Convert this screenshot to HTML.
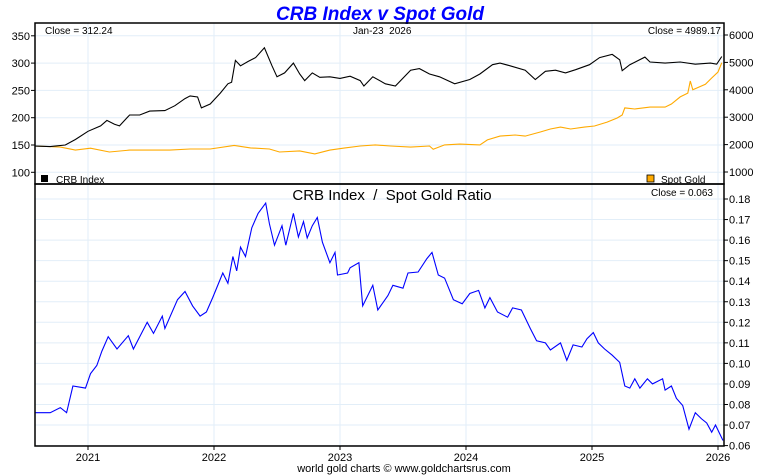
<!DOCTYPE html>
<html><head><meta charset="utf-8"><style>
html,body{margin:0;padding:0;background:#fff;}
svg{display:block;font-family:"Liberation Sans",sans-serif;}
</style></head><body>
<svg id="chart" width="760" height="475" viewBox="0 0 760 475" xmlns="http://www.w3.org/2000/svg">
<text x="380" y="20" text-anchor="middle" font-size="19" font-weight="bold" font-style="italic" fill="#0000ff">CRB Index v Spot Gold</text>
<g id="grid"></g><g id="series"></g><g id="axes"></g>
<text x="45" y="34" font-size="10">Close = 312.24</text>
<text x="353" y="34" font-size="10">Jan-23&#160;&#160;2026</text>
<text x="721" y="34" text-anchor="end" font-size="10">Close = 4989.17</text>
<rect x="41" y="175" width="7" height="7" fill="#000"/>
<text x="56" y="183" font-size="10">CRB Index</text>
<rect x="647" y="175" width="7" height="7" fill="#ffaa00" stroke="#000" stroke-width="0.8"/>
<text x="661" y="183" font-size="10">Spot Gold</text>
<text x="392" y="200" text-anchor="middle" font-size="15">CRB Index&#160;&#160;/&#160;&#160;Spot Gold Ratio</text>
<text x="713" y="196" text-anchor="end" font-size="10">Close = 0.063</text>
<text x="404" y="472" text-anchor="middle" font-size="11">world gold charts © www.goldchartsrus.com</text>
</svg>
<script>
const crbDates=[2020.58,2020.70,2020.82,2020.90,2021.00,2021.10,2021.15,2021.21,2021.25,2021.33,2021.41,2021.49,2021.61,2021.69,2021.77,2021.81,2021.87,2021.90,2021.97,2022.05,2022.11,2022.14,2022.17,2022.21,2022.27,2022.33,2022.40,2022.46,2022.50,2022.56,2022.63,2022.68,2022.72,2022.78,2022.84,2022.92,2023.00,2023.08,2023.16,2023.19,2023.26,2023.36,2023.44,2023.56,2023.63,2023.71,2023.79,2023.91,2024.03,2024.11,2024.21,2024.27,2024.35,2024.47,2024.55,2024.63,2024.71,2024.79,2024.87,2024.98,2025.06,2025.16,2025.22,2025.24,2025.30,2025.42,2025.46,2025.58,2025.70,2025.82,2025.94,2025.99,2026.03];
const crbValues=[148,147,150,160,175,185,195,188,185,205,205,212,213,222,235,240,238,218,225,245,262,265,305,295,303,310,328,295,275,282,300,280,268,282,274,275,272,276,268,258,275,262,258,287,290,280,275,262,270,280,297,300,295,287,270,285,287,282,288,297,310,316,306,286,297,311,302,300,302,298,300,298,312];
const goldDates=[2020.58,2020.78,2020.90,2021.02,2021.17,2021.33,2021.49,2021.65,2021.81,2021.97,2022.16,2022.29,2022.44,2022.52,2022.68,2022.80,2022.92,2023.04,2023.16,2023.28,2023.40,2023.56,2023.71,2023.74,2023.83,2023.95,2024.11,2024.17,2024.27,2024.39,2024.47,2024.59,2024.67,2024.75,2024.83,2024.94,2025.02,2025.12,2025.20,2025.24,2025.26,2025.34,2025.46,2025.58,2025.63,2025.70,2025.76,2025.78,2025.80,2025.90,2025.95,2026.00,2026.03];
const goldValues=[1950,1910,1800,1870,1730,1800,1800,1800,1840,1840,1970,1880,1840,1730,1770,1660,1800,1880,1950,1990,1950,1910,1950,1830,1990,2020,1990,2170,2310,2350,2310,2460,2570,2640,2570,2640,2680,2820,2970,3080,3340,3300,3370,3370,3480,3740,3880,4320,4000,4200,4430,4650,4989];
const ratioDates=[2020.58,2020.70,2020.78,2020.83,2020.88,2020.98,2021.02,2021.07,2021.11,2021.16,2021.23,2021.32,2021.36,2021.47,2021.52,2021.59,2021.61,2021.71,2021.77,2021.83,2021.89,2021.94,2021.99,2022.07,2022.11,2022.15,2022.18,2022.21,2022.25,2022.30,2022.35,2022.41,2022.44,2022.48,2022.54,2022.57,2022.63,2022.67,2022.71,2022.74,2022.78,2022.82,2022.86,2022.92,2022.96,2022.98,2023.06,2023.08,2023.15,2023.18,2023.26,2023.30,2023.38,2023.42,2023.50,2023.54,2023.62,2023.69,2023.73,2023.78,2023.83,2023.90,2023.97,2024.03,2024.10,2024.15,2024.19,2024.25,2024.33,2024.37,2024.44,2024.51,2024.56,2024.63,2024.67,2024.75,2024.80,2024.85,2024.92,2024.96,2025.01,2025.05,2025.10,2025.16,2025.22,2025.26,2025.30,2025.34,2025.38,2025.44,2025.48,2025.56,2025.58,2025.63,2025.67,2025.72,2025.77,2025.82,2025.87,2025.91,2025.95,2025.98,2026.04];
const ratioValues=[0.076,0.076,0.0785,0.076,0.089,0.088,0.095,0.099,0.106,0.113,0.107,0.1135,0.107,0.12,0.1146,0.123,0.117,0.131,0.135,0.128,0.123,0.125,0.132,0.144,0.139,0.152,0.145,0.1566,0.152,0.166,0.173,0.178,0.168,0.1575,0.167,0.1575,0.173,0.1615,0.169,0.161,0.167,0.171,0.159,0.149,0.154,0.143,0.144,0.1465,0.149,0.128,0.138,0.126,0.133,0.138,0.1366,0.144,0.1445,0.151,0.154,0.143,0.1415,0.131,0.129,0.134,0.1355,0.127,0.132,0.125,0.1225,0.127,0.126,0.117,0.111,0.110,0.1065,0.110,0.1015,0.109,0.108,0.112,0.115,0.110,0.107,0.104,0.1005,0.089,0.088,0.0925,0.088,0.0925,0.090,0.0925,0.087,0.089,0.083,0.0795,0.068,0.076,0.073,0.071,0.0665,0.070,0.0625];
const crbTicks=[100,150,200,250,300,350];
const goldTicks=[1000,2000,3000,4000,5000,6000];
const ratioTicks=[0.06,0.07,0.08,0.09,0.10,0.11,0.12,0.13,0.14,0.15,0.16,0.17,0.18];
const yearTicks=[2021,2022,2023,2024,2025,2026];

const L=35,R=724,T1=23,B1=184,B2=446;
const xs=y=>88+(y-2021)*126;
const yCrb=v=>145-(v-150)*0.546;
const yGold=v=>172-(v-1000)*0.0274;
const yRatio=v=>199+(0.18-v)*2055;
const NS='http://www.w3.org/2000/svg';
function mk(tag,attrs,parent){const e=document.createElementNS(NS,tag);for(const k in attrs)e.setAttribute(k,attrs[k]);parent.appendChild(e);return e;}
const grid=document.getElementById('grid'),ser=document.getElementById('series'),ax=document.getElementById('axes');
const gc='#e2eef8';
yearTicks.forEach(y=>{
 const g=mk('line',{x1:xs(y),x2:xs(y),y1:T1,y2:B2,stroke:gc,'stroke-width':1},grid);
 
 
 const t=mk('line',{x1:xs(y),x2:xs(y),y1:B2,y2:B2+4,stroke:'#000'},ax);
 
 
 const tx=mk('text',{x:xs(y),y:461,'text-anchor':'middle','font-size':11},ax);tx.textContent=y;
 
 
});
crbTicks.forEach(v=>{
 const g=mk('line',{x1:L,x2:R,y1:yCrb(v),y2:yCrb(v),stroke:gc},grid);
 
 
 const t=mk('line',{x1:L-4,x2:L,y1:yCrb(v),y2:yCrb(v),stroke:'#000'},ax);
 
 
 const tx=mk('text',{x:L-5,y:yCrb(v)+4,'text-anchor':'end','font-size':11},ax);tx.textContent=v;
 
 
});
goldTicks.forEach(v=>{
 const t=mk('line',{x1:R,x2:R+4,y1:yGold(v),y2:yGold(v),stroke:'#000'},ax);
 
 
 const tx=mk('text',{x:R+5,y:yGold(v)+4,'font-size':11},ax);tx.textContent=v;
 
 
});
ratioTicks.forEach(v=>{
 const g=mk('line',{x1:L,x2:R,y1:yRatio(v),y2:yRatio(v),stroke:gc},grid);
 
 
 const t=mk('line',{x1:R,x2:R+4,y1:yRatio(v),y2:yRatio(v),stroke:'#000'},ax);
 
 
 const tx=mk('text',{x:R+5,y:yRatio(v)+4,'font-size':11},ax);tx.textContent=v.toFixed(2);
 
 
});
function line(dates,vals,yf){return dates.map((d,i)=>(i?'L':'M')+xs(d).toFixed(1)+','+yf(vals[i]).toFixed(1)).join(' ');}
const gl=mk('path',{d:line(goldDates,goldValues,yGold),fill:'none',stroke:'#ffaa00','stroke-width':1.1},ser);


const cl=mk('path',{d:line(crbDates,crbValues,yCrb),fill:'none',stroke:'#000','stroke-width':1.1},ser);


const rl=mk('path',{d:line(ratioDates,ratioValues,yRatio),fill:'none',stroke:'#0000ff','stroke-width':1.1},ser);


const f1=mk('rect',{x:L,y:T1,width:R-L,height:B1-T1,fill:'none',stroke:'#000','stroke-width':1.5},ax);


const f2=mk('rect',{x:L,y:B1,width:R-L,height:B2-B1,fill:'none',stroke:'#000','stroke-width':1.5},ax);


</script>
</body></html>
